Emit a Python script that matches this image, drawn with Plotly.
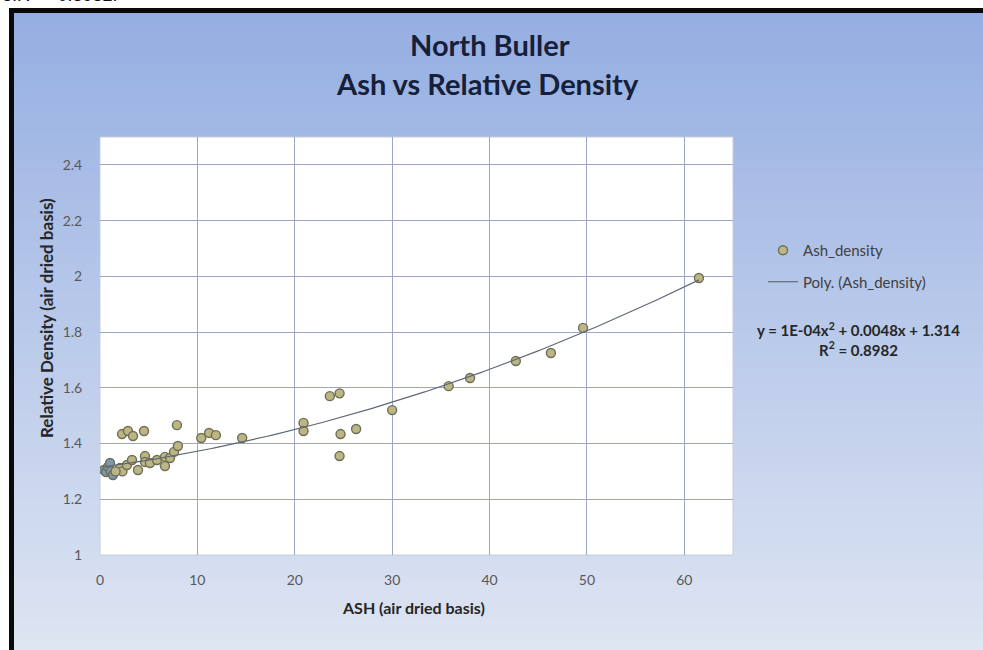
import numpy as np
import plotly.graph_objects as go

# ---------------- data ----------------
ash = [2.05, 2.3, 2.77, 3.29, 3.9, 4.62, 4.62, 5.13, 5.85, 6.67, 6.67, 7.19, 7.6, 8.0,
       2.26, 2.87, 3.39, 4.52, 7.9,
       10.4, 11.2, 11.9, 14.6,
       20.9, 20.9, 23.6, 24.6, 24.7, 24.6, 26.3, 30.0,
       35.8, 38.0, 42.7, 46.3, 49.6, 61.5,
       0.41, 0.62, 0.82, 1.03, 1.1, 1.33, 1.6]
density = [1.312, 1.30, 1.323, 1.341, 1.305, 1.355, 1.334, 1.33, 1.341, 1.352, 1.319, 1.348, 1.37, 1.391,
           1.434, 1.445, 1.427, 1.445, 1.466,
           1.42, 1.438, 1.43, 1.42,
           1.474, 1.445, 1.57, 1.58, 1.434, 1.355, 1.452, 1.52,
           1.606, 1.635, 1.696, 1.725, 1.815, 1.994,
           1.305, 1.298, 1.316, 1.33, 1.30, 1.287, 1.30]
poly_coef = [1e-4, 0.0048, 1.314]      # trendline y = a x^2 + b x + c (from chart label)
r_squared = "0.8982"
x_ticks = [0, 10, 20, 30, 40, 50, 60]
y_ticks = [1, 1.2, 1.4, 1.6, 1.8, 2, 2.2, 2.4]
y_tick_text = ["1", "1.2", "1.4", "1.6", "1.8", "2", "2.2", "2.4"]

# ---------------- layout geometry (pixels) ----------------
W, H = 983, 650
L, R, T, B = 100, 733, 137, 555


def px(xp):
    return (xp - L) / (R - L)


def py(yp):
    return (B - yp) / (B - T)


FONT = "Lato"

fig = go.Figure()

# trendline
xs = np.linspace(min(ash), max(ash), 200)
ys = np.polyval(poly_coef, xs)

marker_colors = ["#7d97ad" if a < 1.4 else "#bcb684" for a in ash]

fig.add_trace(go.Scatter(
    x=ash, y=density, mode="markers", name="Ash_density",
    marker=dict(size=9, color=marker_colors, line=dict(color="#6d6e55", width=1.4)),
    legendgroup="a",
))
fig.add_trace(go.Scatter(
    x=xs, y=ys, mode="lines", name="Poly. (Ash_density)",
    line=dict(color="#5f6877", width=1.2), legendgroup="b",
))

shapes = []
# gradient background bands
top_c = np.array([150, 175, 226])
bot_c = np.array([222, 229, 243])
n = 64
y0p = 13
for i in range(n):
    ya = y0p + (H - y0p) * i / n
    yb = y0p + (H - y0p) * (i + 1) / n + 1
    t = i / (n - 1)
    c = (top_c * (1 - t) + bot_c * t).astype(int)
    shapes.append(dict(type="rect", xref="paper", yref="paper",
                       x0=px(14), x1=px(W + 2), y0=py(yb), y1=py(ya),
                       fillcolor=f"rgb({c[0]},{c[1]},{c[2]})", line=dict(width=0), layer="below"))
# black frame
shapes.append(dict(type="rect", xref="paper", yref="paper", x0=px(9), x1=px(14), y0=py(H + 2), y1=py(8),
                   fillcolor="#0a0a0a", line=dict(width=0), layer="below"))
shapes.append(dict(type="rect", xref="paper", yref="paper", x0=px(9), x1=px(W + 2), y0=py(13), y1=py(8),
                   fillcolor="#0a0a0a", line=dict(width=0), layer="below"))
# plot area white
shapes.append(dict(type="rect", xref="paper", yref="paper", x0=0, x1=1, y0=0, y1=1,
                   fillcolor="white", line=dict(color="#c8ccd6", width=1), layer="below"))


def ann(text, x, y, size, color="#262626", bold=True, angle=0, family=FONT, xanchor="center",
        yanchor="middle", align="center"):
    return dict(text=text, x=px(x), y=py(y), xref="paper", yref="paper", showarrow=False,
                xanchor=xanchor, yanchor=yanchor, align=align, textangle=angle,
                font=dict(family=family, size=size, color=color, weight="bold" if bold else "normal"))


annotations = [
    ann("North Buller", 490, 45, 29, color="#16203a"),
    ann("Ash vs Relative Density", 487, 84, 29, color="#16203a"),
    ann("Relative Density (air dried basis)", 46, 318, 17, angle=-90),
    ann("ASH (air dried basis)", 413, 607, 16),
    ann("y = 1E-04x<sup>2</sup> + 0.0048x + 1.314<br>R<sup>2</sup> = " + r_squared, 858, 339, 15),
    ann("e.R<sup>2</sup> = 0.8982.", 0, 7, 18, color="#111111", bold=False, family="Liberation Sans",
        xanchor="left", yanchor="bottom"),
]

fig.update_layout(
    width=W, height=H,
    margin=dict(l=L, r=W - R, t=T, b=H - B, autoexpand=False),
    paper_bgcolor="white", plot_bgcolor="white",
    shapes=shapes, annotations=annotations,
    showlegend=True,
    legend=dict(x=px(763), y=py(234), xanchor="left", yanchor="top", bgcolor="rgba(0,0,0,0)",
                font=dict(family=FONT, size=15, color="#404040"), tracegroupgap=9),
    xaxis=dict(range=[0, 65], tickvals=x_ticks, showgrid=True, gridcolor="#9ea6c8", gridwidth=1,
               zeroline=False, showline=False, ticks="outside", ticklen=12, tickcolor="rgba(0,0,0,0)",
               tickfont=dict(family=FONT, size=14, color="#595959")),
    yaxis=dict(range=[1, 2.5], tickvals=y_ticks, ticktext=y_tick_text, showgrid=True, gridcolor="#9ea6c8",
               gridwidth=1, zeroline=False, showline=False, ticks="outside", ticklen=14,
               tickcolor="rgba(0,0,0,0)", tickfont=dict(family=FONT, size=14, color="#595959")),
)

fig.write_html("out.html", config={"displayModeBar": False},
               post_script="document.body.style.margin='0px';")
